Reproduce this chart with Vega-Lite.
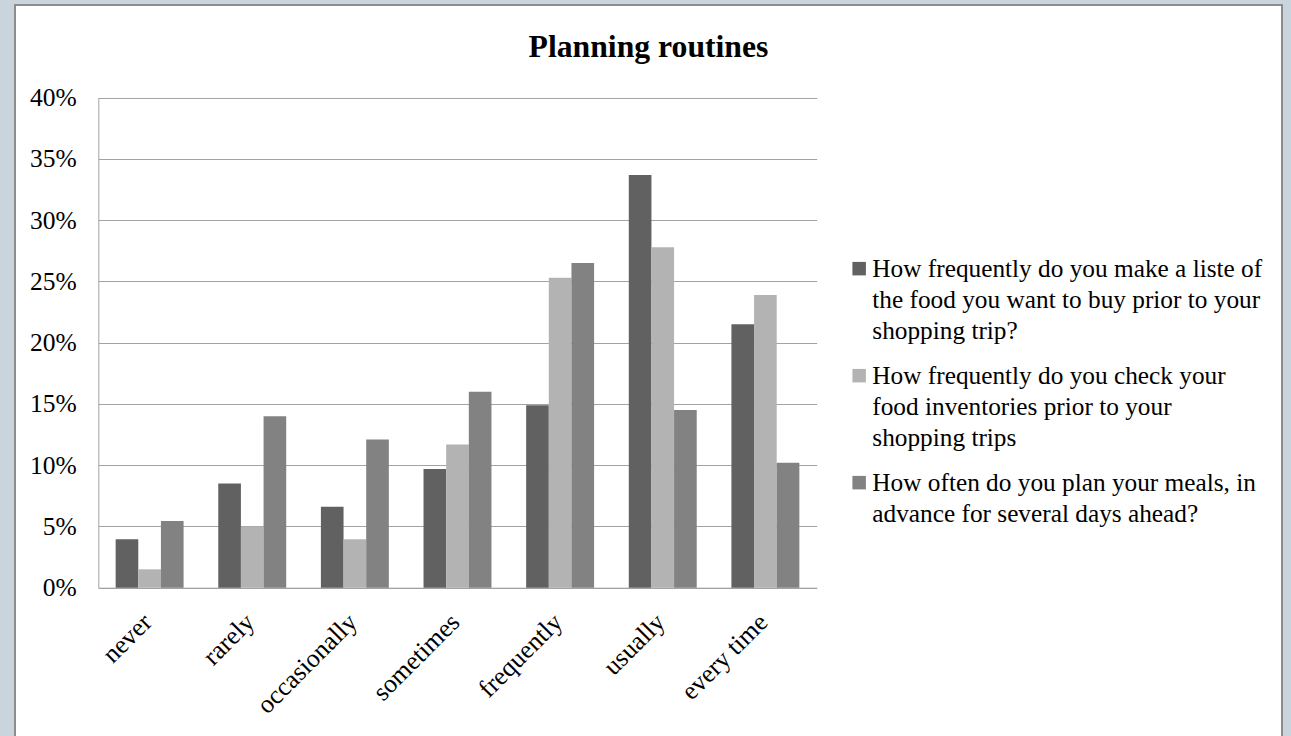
{
  "$schema": "https://vega.github.io/schema/vega-lite/v6.json",
  "width": 1267,
  "height": 740,
  "padding": {"left": 15, "top": 5, "right": 9, "bottom": 0},
  "background": "#c9d4dc",
  "title": {
    "text": "Planning routines",
    "anchor": "middle",
    "frame": "group",
    "font": "Liberation Serif",
    "fontSize": 31.7,
    "fontWeight": "bold",
    "color": "#000000",
    "baseline": "alphabetic",
    "offset": 0,
    "dy": 84
  },
  "data": {
    "values": [
      {"frequency": "never", "question": "How frequently do you make a liste of\nthe food you want to buy prior to your\nshopping trip?", "share": 0.0395},
      {"frequency": "never", "question": "How frequently do you check your\nfood inventories prior to your\nshopping trips", "share": 0.015},
      {"frequency": "never", "question": "How often do you plan your meals, in\nadvance for several days ahead?", "share": 0.0545},
      {"frequency": "rarely", "question": "How frequently do you make a liste of\nthe food you want to buy prior to your\nshopping trip?", "share": 0.085},
      {"frequency": "rarely", "question": "How frequently do you check your\nfood inventories prior to your\nshopping trips", "share": 0.05},
      {"frequency": "rarely", "question": "How often do you plan your meals, in\nadvance for several days ahead?", "share": 0.14},
      {"frequency": "occasionally", "question": "How frequently do you make a liste of\nthe food you want to buy prior to your\nshopping trip?", "share": 0.066},
      {"frequency": "occasionally", "question": "How frequently do you check your\nfood inventories prior to your\nshopping trips", "share": 0.0395},
      {"frequency": "occasionally", "question": "How often do you plan your meals, in\nadvance for several days ahead?", "share": 0.121},
      {"frequency": "sometimes", "question": "How frequently do you make a liste of\nthe food you want to buy prior to your\nshopping trip?", "share": 0.097},
      {"frequency": "sometimes", "question": "How frequently do you check your\nfood inventories prior to your\nshopping trips", "share": 0.117},
      {"frequency": "sometimes", "question": "How often do you plan your meals, in\nadvance for several days ahead?", "share": 0.16},
      {"frequency": "frequently", "question": "How frequently do you make a liste of\nthe food you want to buy prior to your\nshopping trip?", "share": 0.149},
      {"frequency": "frequently", "question": "How frequently do you check your\nfood inventories prior to your\nshopping trips", "share": 0.253},
      {"frequency": "frequently", "question": "How often do you plan your meals, in\nadvance for several days ahead?", "share": 0.265},
      {"frequency": "usually", "question": "How frequently do you make a liste of\nthe food you want to buy prior to your\nshopping trip?", "share": 0.337},
      {"frequency": "usually", "question": "How frequently do you check your\nfood inventories prior to your\nshopping trips", "share": 0.278},
      {"frequency": "usually", "question": "How often do you plan your meals, in\nadvance for several days ahead?", "share": 0.145},
      {"frequency": "every time", "question": "How frequently do you make a liste of\nthe food you want to buy prior to your\nshopping trip?", "share": 0.215},
      {"frequency": "every time", "question": "How frequently do you check your\nfood inventories prior to your\nshopping trips", "share": 0.239},
      {"frequency": "every time", "question": "How often do you plan your meals, in\nadvance for several days ahead?", "share": 0.102}
    ]
  },
  "mark": {"type": "bar"},
  "encoding": {
    "x": {
      "field": "frequency",
      "type": "nominal",
      "sort": ["never", "rarely", "occasionally", "sometimes", "frequently", "usually", "every time"],
      "scale": {"range": [83.3, 801.7], "paddingInner": 0.338, "paddingOuter": 0.169},
      "axis": {
        "title": null,
        "orient": "bottom",
        "offset": -157.3,
        "labelAngle": -45,
        "labelAlign": "right",
        "labelBaseline": "middle",
        "labelPadding": 30,
        "labelOffset": -2,
        "ticks": false,
        "tickSize": 0,
        "grid": false,
        "domainColor": "#a3a3a3",
        "domainWidth": 1,
        "labelFont": "Liberation Serif",
        "labelFontSize": 25.8,
        "labelColor": "#000000"
      }
    },
    "xOffset": {
      "field": "question",
      "type": "nominal",
      "scale": {
        "domain": [
          "How frequently do you make a liste of\nthe food you want to buy prior to your\nshopping trip?",
          "How frequently do you check your\nfood inventories prior to your\nshopping trips",
          "How often do you plan your meals, in\nadvance for several days ahead?"
        ],
        "paddingInner": 0,
        "paddingOuter": 0
      }
    },
    "y": {
      "field": "share",
      "type": "quantitative",
      "scale": {"domain": [0, 0.4], "range": [582.7, 92.7], "nice": false, "zero": true},
      "axis": {
        "title": null,
        "orient": "left",
        "offset": -83.3,
        "values": [0, 0.05, 0.1, 0.15, 0.2, 0.25, 0.3, 0.35, 0.4],
        "format": ".0%",
        "grid": true,
        "gridColor": "#a3a3a3",
        "gridWidth": 1,
        "domainColor": "#a3a3a3",
        "domainWidth": 1,
        "ticks": false,
        "tickSize": 0,
        "labelPadding": 22,
        "labelFont": "Liberation Serif",
        "labelFontSize": 25.5,
        "labelColor": "#000000"
      }
    },
    "color": {
      "field": "question",
      "type": "nominal",
      "scale": {
        "domain": [
          "How frequently do you make a liste of\nthe food you want to buy prior to your\nshopping trip?",
          "How frequently do you check your\nfood inventories prior to your\nshopping trips",
          "How often do you plan your meals, in\nadvance for several days ahead?"
        ],
        "range": ["#616161", "#b3b3b3", "#828282"]
      },
      "legend": {
        "title": null,
        "orient": "none",
        "legendX": 831.5,
        "legendY": 251,
        "padding": 0,
        "symbolType": "square",
        "symbolSize": 182,
        "symbolStrokeWidth": 0,
        "labelFont": "Liberation Serif",
        "labelFontSize": 25.3,
        "labelColor": "#000000",
        "labelOffset": 0.5,
        "labelLimit": 1000,
        "labelExpr": "split(datum.label, '\\n')",
        "rowPadding": 19,
        "encode": {"labels": {"update": {"lineHeight": {"value": 31}}}}
      }
    }
  },
  "config": {
    "view": {"fill": "#ffffff", "stroke": "#8c8c8c", "strokeWidth": 2}
  }
}
